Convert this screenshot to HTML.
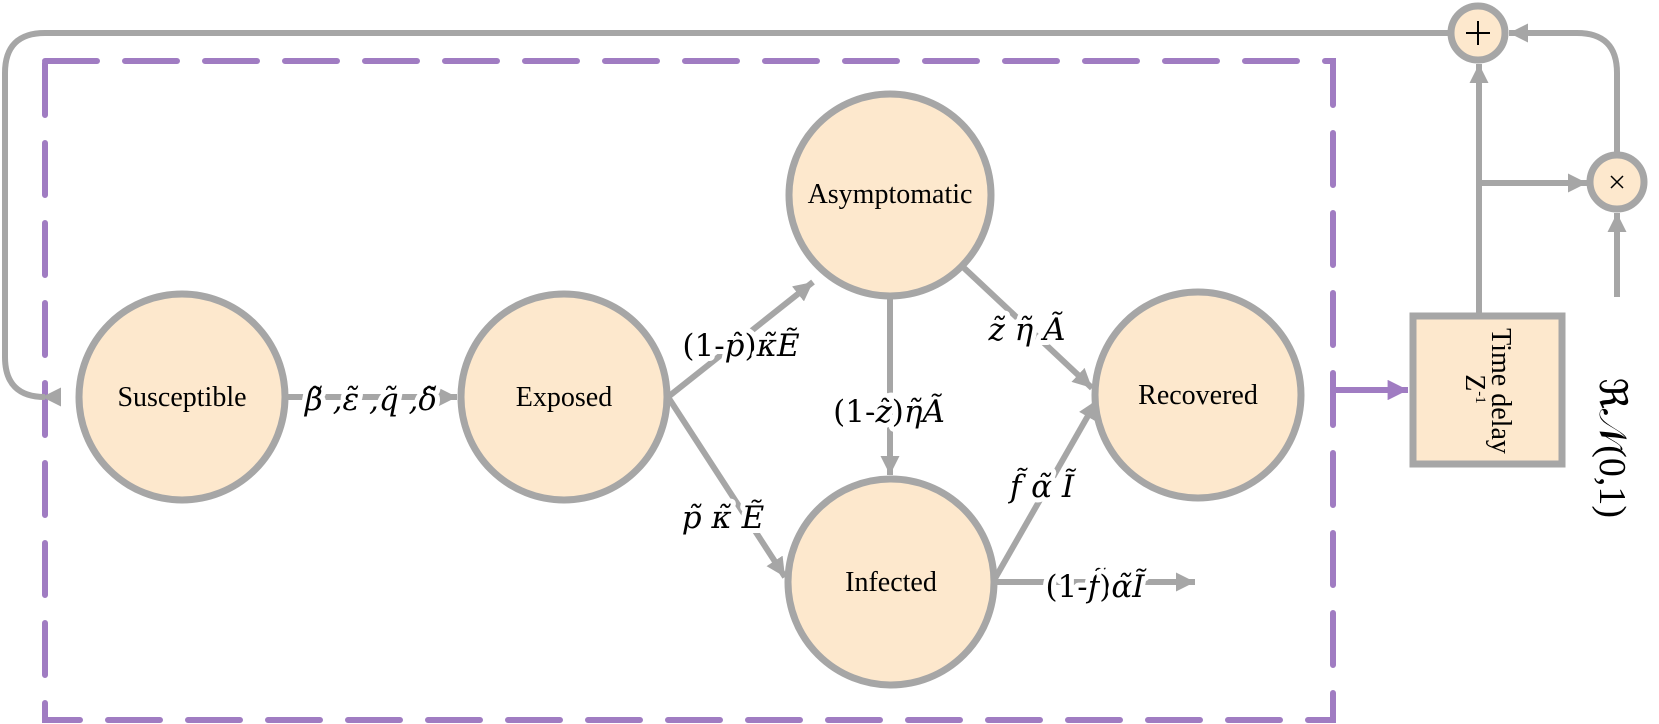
<!DOCTYPE html>
<html><head><meta charset="utf-8"><style>
html,body{margin:0;padding:0;background:#fff;}
svg{display:block;}
text{font-family:"Liberation Serif","DejaVu Serif",serif;fill:#000;}
.m{font-family:"DejaVu Serif",serif;font-style:italic;font-size:31px;paint-order:stroke;stroke:#fff;stroke-width:10px;stroke-linejoin:round;}
.n{font-family:"Liberation Serif",serif;font-size:28px;}
</style></head><body>
<svg width="1659" height="724" viewBox="0 0 1659 724">
<defs>
<marker id="ag" viewBox="0 0 10 10" refX="10" refY="5" markerWidth="3.2" markerHeight="3.2" orient="auto" markerUnits="strokeWidth"><path d="M0,0 L10,5 L0,10 z" fill="#a6a6a6"/></marker>
<marker id="ap" viewBox="0 0 10 10" refX="10" refY="5" markerWidth="3.4" markerHeight="3.4" orient="auto" markerUnits="strokeWidth"><path d="M0,0 L10,5 L0,10 z" fill="#a07cc2"/></marker>
</defs>

<rect x="45" y="61" width="1288" height="659" fill="none" stroke="#a07cc2" stroke-width="6" stroke-dasharray="52 28" stroke-linecap="round"/>

<g fill="none" stroke="#a6a6a6" stroke-width="6">
<path d="M1448 33 L45 33 Q5 33 5 73 L5 357 Q5 397 45 397 L42 397" marker-end="url(#ag)"/>
<path d="M1617 152 L1617 73 Q1617 33 1577 33 L1509 33" marker-end="url(#ag)"/>
<path d="M1479 313 L1479 64" marker-end="url(#ag)"/>
<path d="M1479 183 L1587 183" marker-end="url(#ag)"/>
<path d="M1617 297 L1617 213" marker-end="url(#ag)"/>
<path d="M288 397 L457 397" marker-end="url(#ag)"/>
<path d="M668 397 L813 282" marker-end="url(#ag)"/>
<path d="M668 397 L785 577" marker-end="url(#ag)"/>
<path d="M890 296 L890 475" marker-end="url(#ag)"/>
<path d="M963 267 L1092 388" marker-end="url(#ag)"/>
<path d="M993 582 L1097 400" marker-end="url(#ag)"/>
<path d="M995 582 L1195 582" marker-end="url(#ag)"/>
</g>
<path d="M1333 390 L1408 390" stroke="#a07cc2" stroke-width="6" fill="none" marker-end="url(#ap)"/>

<g fill="#fde8cd" stroke="#a6a6a6" stroke-width="7">
<circle cx="182" cy="397" r="103"/>
<circle cx="564" cy="397" r="103"/>
<circle cx="890" cy="195" r="101"/>
<circle cx="891" cy="582" r="103"/>
<circle cx="1198" cy="395" r="103"/>
<circle cx="1478" cy="33" r="27"/>
<circle cx="1617" cy="182" r="27"/>
<rect x="1413" y="316" width="149" height="148"/>
</g>
<g stroke="#000" stroke-width="2">
<path d="M1466 33 H1490 M1478 21 V45"/>
<path d="M1611 176 L1623 188 M1623 176 L1611 188" stroke-width="1.5"/>
</g>

<text class="n" x="182" y="406" text-anchor="middle">Susceptible</text>
<text class="n" x="564" y="406" text-anchor="middle">Exposed</text>
<text class="n" x="890" y="203" text-anchor="middle">Asymptomatic</text>
<text class="n" x="891" y="591" text-anchor="middle">Infected</text>
<text class="n" x="1198" y="404" text-anchor="middle">Recovered</text>

<text class="m" x="371" y="410" text-anchor="middle">β̃ ,ε̃ ,q̃ ,δ̃</text>
<text class="m" x="741" y="356" text-anchor="middle"><tspan font-style="normal">(1-</tspan>p̃<tspan font-style="normal">)</tspan>κ̃Ẽ</text>
<text class="m" x="889" y="422" text-anchor="middle"><tspan font-style="normal">(1-</tspan>z̃<tspan font-style="normal">)</tspan>η̃Ã</text>
<text class="m" x="723" y="528" text-anchor="middle">p̃ κ̃ Ẽ</text>
<text class="m" x="1027" y="340" text-anchor="middle">z̃ η̃ Ã</text>
<text class="m" x="1042" y="497" text-anchor="middle">f̃ α̃ Ĩ</text>
<text class="m" x="1095" y="597" text-anchor="middle"><tspan font-style="normal">(1-</tspan>f̃<tspan font-style="normal">)</tspan>α̃Ĩ</text>

<text transform="translate(1492,391) rotate(90)" text-anchor="middle" font-size="28">Time delay</text>
<text transform="translate(1466,389) rotate(90)" text-anchor="middle" font-size="28">Z<tspan font-size="15" dy="-10">-1</tspan></text>
<text transform="translate(1600,448) rotate(90)" text-anchor="middle" font-size="38">ℜ𝒩(0,1)</text>
</svg>
</body></html>
